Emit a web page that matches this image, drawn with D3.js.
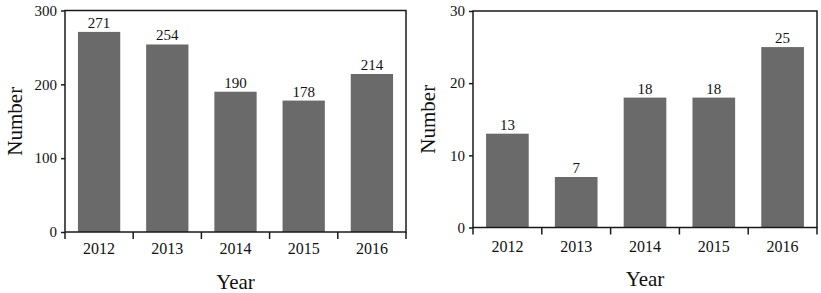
<!DOCTYPE html>
<html>
<head>
<meta charset="utf-8">
<script src="https://cdn.jsdelivr.net/npm/d3@7"></script>
<style>
  body { margin: 0; background: #fff; }
  svg text { font-family: "Liberation Serif", "Times New Roman", serif; fill: #111; }
</style>
</head>
<body>
<svg id="chart" width="821" height="293"></svg>
<script>
// data
const years = ['2012', '2013', '2014', '2015', '2016'];
const leftValues = [271, 254, 190, 178, 214];
const rightValues = [13, 7, 18, 18, 25];
const leftTicks = [0, 100, 200, 300];
const rightTicks = [0, 10, 20, 30];

const svg = d3.select('#chart');

// one panel = box frame + bars + labels
function drawPanel(opts) {
  const { left, right, top, bottom, values, ticks, ymax, numX, yearY, xlabY } = opts;
  const g = svg.append('g');

  const x = d3.scaleBand()
    .domain(years)
    .range([left, right])
    .paddingInner(0.38)
    .paddingOuter(0.19);

  const y = d3.scaleLinear()
    .domain([0, ymax])
    .range([bottom, top]);

  // bars
  g.append('g')
    .selectAll('rect')
    .data(values)
    .join('rect')
      .attr('x', (d, i) => x(years[i]))
      .attr('y', d => y(d))
      .attr('width', x.bandwidth())
      .attr('height', d => y(0) - y(d))
      .attr('fill', '#6a6a6a');

  // value labels
  g.append('g')
    .selectAll('text')
    .data(values)
    .join('text')
      .attr('x', (d, i) => x(years[i]) + x.bandwidth() / 2)
      .attr('y', d => y(d) - 4)
      .attr('text-anchor', 'middle')
      .attr('font-size', '15px')
      .text(d => d);

  // frame
  g.append('rect')
    .attr('x', left)
    .attr('y', top)
    .attr('width', right - left)
    .attr('height', bottom - top)
    .attr('fill', 'none')
    .attr('stroke', '#1a1a1a')
    .attr('stroke-width', 1.5);

  // y axis
  const yAxis = d3.axisLeft(y).tickValues(ticks).tickSize(4).tickPadding(4);
  g.append('g')
    .attr('transform', `translate(${left},0)`)
    .call(yAxis)
    .attr('font-family', null)
    .call(a => a.select('.domain').remove())
    .call(a => a.selectAll('line').attr('stroke', '#1a1a1a').attr('stroke-width', 1.5))
    .call(a => a.selectAll('text').attr('font-size', '15px').attr('fill', '#111'));

  // x axis: ticks at band boundaries
  const bounds = years.map(yr => x(yr) - x.step() * x.paddingInner() / 2);
  bounds.push(right);
  g.append('g')
    .selectAll('line')
    .data(bounds)
    .join('line')
      .attr('x1', d => d).attr('x2', d => d)
      .attr('y1', bottom).attr('y2', bottom + 7)
      .attr('stroke', '#1a1a1a')
      .attr('stroke-width', 1.5);

  g.append('g')
    .selectAll('text')
    .data(years)
    .join('text')
      .attr('x', d => x(d) + x.bandwidth() / 2)
      .attr('y', yearY)
      .attr('text-anchor', 'middle')
      .attr('font-size', '16px')
      .text(d => d);

  // axis titles
  g.append('text')
    .attr('x', (left + right) / 2)
    .attr('y', xlabY)
    .attr('text-anchor', 'middle')
    .attr('font-size', '21px')
    .text('Year');

  g.append('text')
    .attr('transform', `translate(${numX},${(top + bottom) / 2}) rotate(-90)`)
    .attr('text-anchor', 'middle')
    .attr('font-size', '21px')
    .text('Number');
}

drawPanel({ left: 65, right: 406, top: 10.5, bottom: 232, values: leftValues, ticks: leftTicks, ymax: 300, numX: 22, yearY: 254, xlabY: 289 });
drawPanel({ left: 473, right: 817, top: 11, bottom: 227.5, values: rightValues, ticks: rightTicks, ymax: 30, numX: 435, yearY: 252, xlabY: 286 });
</script>
</body>
</html>
